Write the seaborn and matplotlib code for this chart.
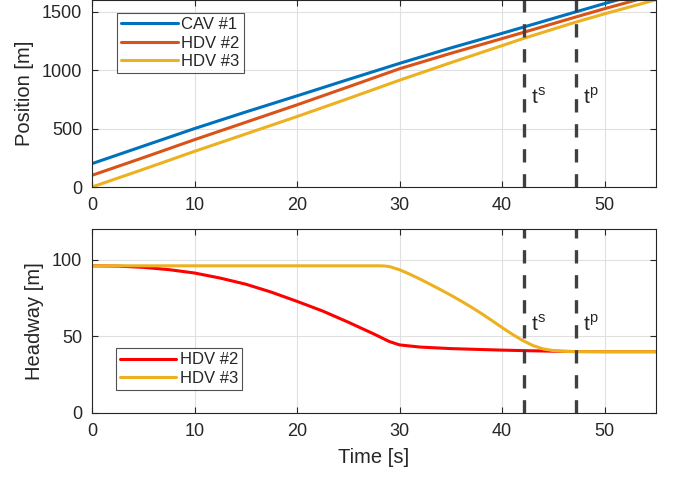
import numpy as np
import pandas as pd
import matplotlib
matplotlib.use("Agg")
import matplotlib.pyplot as plt
import seaborn as sns

# position of each vehicle [m]
t_pos = [0, 5, 10, 15, 20, 25, 30, 35, 40, 42, 47, 50, 55]
pos_cav1 = [200, 350, 500, 642, 780, 920, 1058, 1190, 1315, 1366, 1494, 1570, 1690]
pos_hdv2 = [100, 251, 405, 554, 703, 857, 1012, 1144, 1270, 1321, 1450, 1526, 1646]
pos_hdv3 = [0, 151, 305, 454, 603, 757, 914, 1064, 1210, 1269, 1406, 1482, 1602]

# headway [m]
t_h2 = [0, 2.5, 5, 7.5, 10, 12.5, 15, 17.5, 20, 22.5, 25, 27.5, 29, 30, 32, 35, 40, 42, 45, 47, 50, 55]
head_hdv2 = [96, 95.8, 95, 93.5, 91.3, 88, 84, 78.8, 72.8, 66.5, 59.2, 51.5, 46.6, 44.4, 43, 42, 41, 40.7, 40.3, 40.1, 40, 40]
t_h3 = [0, 28, 28.5, 29, 30, 31, 32, 33, 34, 35, 36, 37, 38, 39, 40, 41, 42, 43, 44, 45, 46, 47, 50, 55]
head_hdv3 = [96, 96, 95.9, 95.5, 93.4, 90.5, 87.3, 83.9, 80.4, 76.8, 73, 69, 64.8, 60.3, 55.7,
             51.3, 47.3, 44, 41.8, 40.7, 40.2, 40.05, 40, 40]

t_s = 42.1
t_p = 47.2

sns.set_theme(style="ticks")
plt.rcParams['font.family'] = ['Liberation Sans', 'DejaVu Sans']

blue = "#0072BD"
orange = "#D95319"
yellow = "#EDB120"
red = "#FF0000"
dash_col = "#404040"
txt = "#262626"

fig = plt.figure(figsize=(6.73, 4.79), dpi=100)
ax1 = fig.add_axes([0.1367, 0.6096, 0.838, 0.3904])
ax2 = fig.add_axes([0.1367, 0.1378, 0.838, 0.3841])

df_pos = pd.DataFrame({"t": t_pos, "CAV #1": pos_cav1, "HDV #2": pos_hdv2, "HDV #3": pos_hdv3})
df_pos = df_pos.melt(id_vars="t", var_name="veh", value_name="pos")
sns.lineplot(data=df_pos, x="t", y="pos", hue="veh", palette=[blue, orange, yellow],
             linewidth=2.2, ax=ax1, sort=False)

df_h = pd.concat([
    pd.DataFrame({"t": t_h2, "h": head_hdv2, "veh": "HDV #2"}),
    pd.DataFrame({"t": t_h3, "h": head_hdv3, "veh": "HDV #3"}),
])
sns.lineplot(data=df_h, x="t", y="h", hue="veh", palette=[red, yellow],
             linewidth=2.2, ax=ax2, sort=False)

for ax, ylim, yt, ytxt in [(ax1, (0, 1600), [0, 500, 1000, 1500], 767),
                           (ax2, (0, 120), [0, 50, 100], 58)]:
    ax.set_xlim(0, 55)
    ax.set_ylim(*ylim)
    ax.set_xticks([0, 10, 20, 30, 40, 50])
    ax.set_yticks(yt)
    ax.grid(True, color="#e0e0e0", linewidth=0.8)
    ax.set_axisbelow(True)
    ax.tick_params(direction="in", length=4, width=0.8, top=True, right=True,
                   labelsize=13, colors=txt, pad=7)
    for sp in ax.spines.values():
        sp.set_visible(True)
        sp.set_color(txt)
        sp.set_linewidth(0.8)
    ax.axvline(t_s, color=dash_col, linewidth=2.4, dashes=(4, 3.5))
    ax.axvline(t_p, color=dash_col, linewidth=2.4, dashes=(4, 3.5))
    ax.text(t_s + 0.7, ytxt, r"t$^{\mathregular{s}}$", fontsize=15, color=txt, va="center")
    ax.text(t_p + 0.7, ytxt, r"t$^{\mathregular{p}}$", fontsize=15, color=txt, va="center")

ax1.set_xlabel("")
ax1.set_ylabel("Position [m]", fontsize=14.5, color=txt, labelpad=6)
ax2.set_xlabel("Time [s]", fontsize=14.5, color=txt, labelpad=6)
ax2.set_ylabel("Headway [m]", fontsize=14.5, color=txt, labelpad=6)

leg1 = ax1.legend(loc="upper left", bbox_to_anchor=(0.03, 0.975), fontsize=12, frameon=True,
                  fancybox=False, edgecolor=txt, handlelength=3.4, borderpad=0.25,
                  labelspacing=0.2, handletextpad=0.2)
leg1.get_frame().set_linewidth(0.8)
leg2 = ax2.legend(loc="lower left", bbox_to_anchor=(0.027, 0.08), fontsize=12, frameon=True,
                  fancybox=False, edgecolor=txt, handlelength=3.4, borderpad=0.25,
                  labelspacing=0.2, handletextpad=0.2)
leg2.get_frame().set_linewidth(0.8)

fig.savefig("out.png", dpi=100)
